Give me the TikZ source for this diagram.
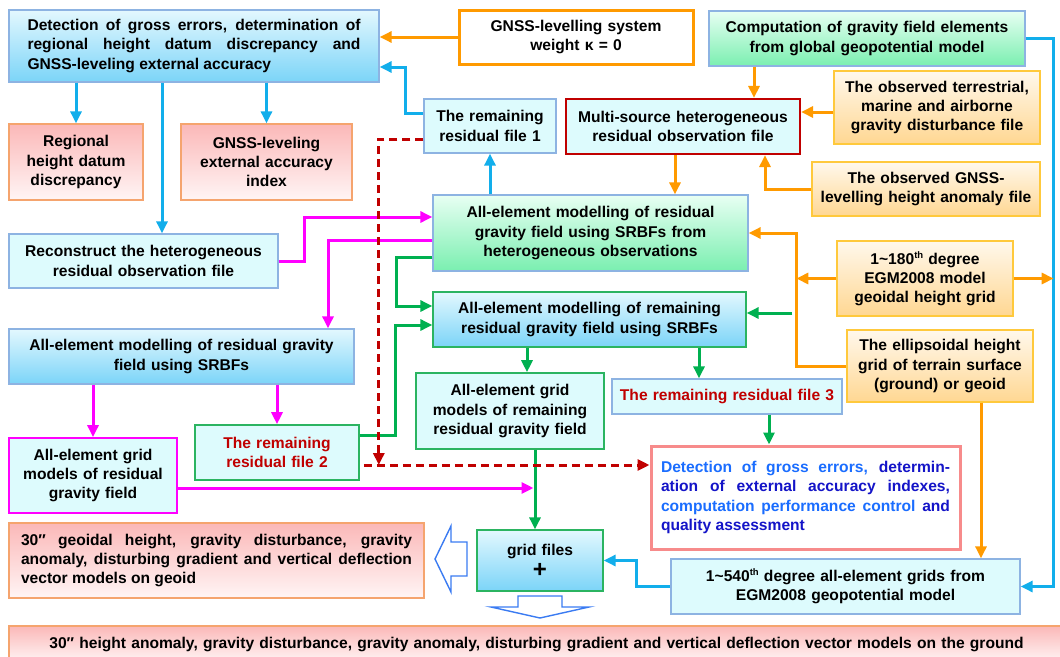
\documentclass[tikz,border=0pt]{standalone}
\usepackage{fontspec}
\setmainfont{Liberation Sans}
\usetikzlibrary{arrows.meta}
\definecolor{skytop}{HTML}{E3F8FE}
\definecolor{skybot}{HTML}{7BD4F8}
\definecolor{minttop}{HTML}{E8FFF3}
\definecolor{mintbot}{HTML}{7AEFB0}
\definecolor{rosetop}{HTML}{FBB8B8}
\definecolor{rosebot}{HTML}{FFF5F5}
\definecolor{sandtop}{HTML}{FFF8EC}
\definecolor{sandbot}{HTML}{FFD792}
\definecolor{icefill}{HTML}{DDFBFD}
\definecolor{frameblue}{HTML}{8DB3E2}
\definecolor{framegreen}{HTML}{2BB461}
\definecolor{framerose}{HTML}{F5A46E}
\definecolor{framesand}{HTML}{FFC93C}
\definecolor{framesalmon}{HTML}{F78B8B}
\definecolor{framemag}{HTML}{FF00FF}
\definecolor{darkred}{HTML}{C00000}
\definecolor{linecyan}{HTML}{12AEEB}
\definecolor{lineorange}{HTML}{FF9A00}
\definecolor{linemag}{HTML}{FF00FF}
\definecolor{linegreen}{HTML}{00B050}
\definecolor{hollowblue}{HTML}{3A7BF2}
\definecolor{tblue}{HTML}{1A6DFF}
\definecolor{tnavy}{HTML}{1414C8}
\newcommand{\sups}[1]{\raisebox{6pt}{\fontsize{9.5}{9.5}\selectfont #1}}
\tikzset{
BOX/.style={draw=#1, line width=1.3pt, inner sep=0pt, align=center, font=\bfseries\fontsize{15.6}{19.2}\selectfont},
BOX/.default=frameblue,
SKY/.style={BOX=#1, top color=skytop, bottom color=skybot},
SKY/.default=frameblue,
MINT/.style={BOX, top color=minttop, bottom color=mintbot},
ROSE/.style={BOX=framerose, top color=rosetop, bottom color=rosebot},
SAND/.style={BOX=framesand, top color=sandtop, bottom color=sandbot},
ICE/.style={BOX=#1, fill=icefill},
ICE/.default=frameblue,
LINK/.style={draw=#1, line width=3pt, -{Triangle[length=12pt,width=11pt]}},
DASHLINK/.style={draw=darkred, line width=3pt, dash pattern=on 8pt off 5pt, -{Triangle[length=12pt,width=11pt]}},
HOLLOW/.style={draw=hollowblue, line width=1.4pt, fill=white, line join=miter},
}
\begin{document}
\begin{tikzpicture}[x=1pt,y=-1pt]
	\useasboundingbox (0,0) rectangle (1060,656);
	\clip (0,0) rectangle (1060,656);
	% left column
	\node[SKY, align=justify, text width=333pt, minimum width=370pt, minimum height=72pt] (A) at (194,46) {Detection of gross errors, determination of\linebreak regional height datum discrepancy and\linebreak GNSS-leveling external accuracy};
	\node[ROSE, text width=134pt, minimum height=76pt] (B) at (76,162) {Regional\\height datum\\discrepancy};
	\node[ROSE, text width=171pt, minimum height=76pt] (C) at (266.5,162) {GNSS-leveling\\external accuracy\\index};
	\node[ICE, text width=269pt, minimum height=54pt] (D) at (143.5,261) {Reconstruct the heterogeneous\\residual observation file};
	\node[SKY, text width=345pt, minimum height=55pt] (E) at (181.5,356.5) {All-element modelling of residual gravity\\field using SRBFs};
	\node[ICE=framemag, line width=1.8pt, text width=168pt, minimum height=75pt] (F) at (93,475.5) {All-element grid\\models of residual\\gravity field};
	\node[ICE=framegreen, line width=1.6pt, text width=164pt, minimum height=55pt, text=darkred] (G) at (277,452.5) {The remaining\\residual file 2};
	\node[ROSE, align=justify, text width=391pt, minimum width=415pt, minimum height=75pt] (W) at (216.5,560.5) {30″ geoidal height, gravity disturbance, gravity\linebreak anomaly, disturbing gradient and vertical deflection\linebreak vector models on geoid};
	% middle column
	\node[BOX=lineorange, line width=3pt, fill=white, text width=234pt, minimum height=54pt] (H) at (576,37) {GNSS-levelling system\\weight κ = 0};
	\node[ICE, text width=132pt, minimum height=54pt] (I) at (490,126) {The remaining\\residual file 1};
	\node[ICE=darkred, line width=2.2pt, text width=234pt, minimum height=55pt] (J) at (683,126.5) {Multi-source heterogeneous\\residual observation file};
	\node[MINT, text width=315pt, minimum height=76pt] (N) at (590.5,233) {All-element modelling of residual\\gravity field using SRBFs from\\heterogeneous observations};
	\node[SKY=framegreen, text width=313pt, minimum height=55pt] (P) at (589.5,319.5) {All-element modelling of remaining\\residual gravity field using SRBFs};
	\node[ICE=framegreen, line width=1.6pt, text width=188pt, minimum height=76pt] (R) at (510,411) {All-element grid\\models of remaining\\residual gravity field};
	\node[ICE, text width=230pt, minimum height=35pt, text=darkred] (S) at (727,396.5) {The remaining residual file 3};
	\node[BOX=framesalmon, line width=3pt, fill=white, align=justify, text width=289pt, minimum width=309pt, minimum height=103pt] (T) at (805.5,497.5) {\textcolor{tblue}{Detection of gross errors,} \textcolor{tnavy}{determin-}\linebreak \textcolor{tnavy}{ation of external accuracy indexes,}\linebreak \textcolor{tblue}{computation performance control} \textcolor{tnavy}{and}\linebreak \textcolor{tnavy}{quality assessment}};
	\node[SKY=framegreen, text width=126pt, minimum height=61pt] (U) at (540,560.5) {grid files\\[3pt]{\fontsize{24}{16}\selectfont +}};
	% right column
	\node[MINT, text width=316pt, minimum height=55pt] (K) at (867,38.5) {Computation of gravity field elements\\from global geopotential model};
	\node[SAND, text width=206pt, minimum height=73pt] (L) at (937,107.5) {The observed terrestrial,\\marine and airborne\\gravity disturbance file};
	\node[SAND, text width=228pt, minimum height=54pt] (M) at (926,189) {The observed GNSS-\\levelling height anomaly file};
	\node[SAND, text width=176pt, minimum height=75pt] (O) at (925,278.5) {1\textasciitilde 180\sups{th} degree\\EGM2008 model\\geoidal height grid};
	\node[SAND, text width=186pt, minimum height=72pt] (Q) at (940,366) {The ellipsoidal height\\grid of terrain surface\\(ground) or geoid};
	\node[ICE, text width=349pt, minimum height=55pt] (V) at (845.5,586.5) {1\textasciitilde 540\sups{th} degree all-element grids from\\EGM2008 geopotential model};
	\node[ROSE, text width=1055pt, minimum height=36pt] (X) at (536.5,644) {30″ height anomaly, gravity disturbance, gravity anomaly, disturbing gradient and vertical deflection vector models on the ground};
	% turning points
	\coordinate (dcol) at ([xshift=18.5pt]D.north);
	\coordinate (kcol) at ([xshift=71pt]J.north);
	\coordinate (mcol) at ([xshift=82pt]J.south);
	\coordinate (jcol) at ([xshift=-8pt]J.south);
	\coordinate (oracol) at ([xshift=-50pt]Q.west);
	\coordinate (cyancol) at ([xshift=28pt]K.east);
	\coordinate (scol) at ([xshift=-28pt]S.north);
	\coordinate (tcol) at ([xshift=42pt]S.south);
	\coordinate (vcol) at ([xshift=41pt]Q.south);
	\coordinate (rcol) at ([xshift=17pt]R.north);
	\coordinate (gcol) at ([xshift=25pt]R.south);
	\coordinate (ecol) at ([xshift=146.5pt]E.north);
	\coordinate (lin) at ([yshift=-4.5pt]L.west);
	\coordinate (pin) at ([yshift=6.5pt]P.east);
	\coordinate (fout) at ([yshift=-12.5pt]F.east);
	\coordinate (gout) at ([yshift=-12.5pt]G.east);
	% cyan
	\foreach \n in {B,C}
		\draw[LINK=linecyan] (A.south -| \n.north) -- (\n.north);
	\draw[LINK=linecyan] (A.south -| dcol) -- (dcol);
	\draw[LINK=linecyan] ([yshift=13pt]I.west) -- ++(-18,0) |- ([yshift=-21pt]A.east);
	\draw[LINK=linecyan] (N.north -| I.south) -- (I.south);
	\draw[LINK=linecyan] (K.east) -- (cyancol) |- (V.east);
	\draw[LINK=linecyan] (V.west) -- ++(-34,0) |- (U.east);
	% orange
	\draw[LINK=lineorange] (H.west) -- (H.west -| A.east);
	\draw[LINK=lineorange] (K.south -| kcol) -- (kcol);
	\draw[LINK=lineorange] (lin) -- (lin -| J.east);
	\draw[LINK=lineorange] (M.west) -| (mcol);
	\draw[LINK=lineorange] (jcol) -- (jcol |- N.north);
	\draw[LINK=lineorange] (Q.west) -- (oracol) |- (N.east);
	\draw[LINK=lineorange] (O.west) -- (O.west -| oracol);
	\draw[LINK=lineorange] (O.east) -- (O.east -| cyancol);
	\draw[LINK=lineorange] (vcol) -- (vcol |- V.north);
	% magenta
	\draw[LINK=linemag] (D.east) -- ++(26,0) |- ([yshift=16pt]N.west);
	\draw[LINK=linemag] ([yshift=-7pt]N.west) -| (ecol);
	\foreach \n in {F,G}
		\draw[LINK=linemag] (E.south -| \n.north) -- (\n.north);
	\draw[LINK=linemag, shorten >=1.5pt] (fout) -- (fout -| gcol);
	% green
	\draw[LINK=linegreen] ([yshift=-24pt]N.west) -- ++(-36,0) |- ([yshift=13.5pt]P.west);
	\draw[LINK=linegreen] ([yshift=17.5pt]G.east) -- ++(36,0) |- ([yshift=-5.5pt]P.west);
	\draw[LINK=linegreen, shorten <=4pt] (pin -| oracol) -- (pin);
	\draw[LINK=linegreen] (P.south -| rcol) -- (rcol);
	\draw[LINK=linegreen] (P.south -| scol) -- (scol);
	\draw[LINK=linegreen] (tcol) -- (tcol |- T.north);
	\draw[LINK=linegreen] (gcol) -- (gcol |- U.north);
	% dashed
	\draw[DASHLINK] ([yshift=-13pt]I.west) -| ([xshift=19pt]gout);
	\draw[DASHLINK, shorten <=4pt] (gout) -- (gout -| T.west);
	% hollow arrows
	\draw[HOLLOW] (435,559) -- (451,526) -- (451,542) -- (467,542) -- (467,576) -- (451,576) -- (451,592) -- cycle;
	\draw[HOLLOW] (518,596) -- (562,596) -- (562,607) -- (589,607) -- (540,618) -- (491,607) -- (518,607) -- cycle;
\end{tikzpicture}
\end{document}
